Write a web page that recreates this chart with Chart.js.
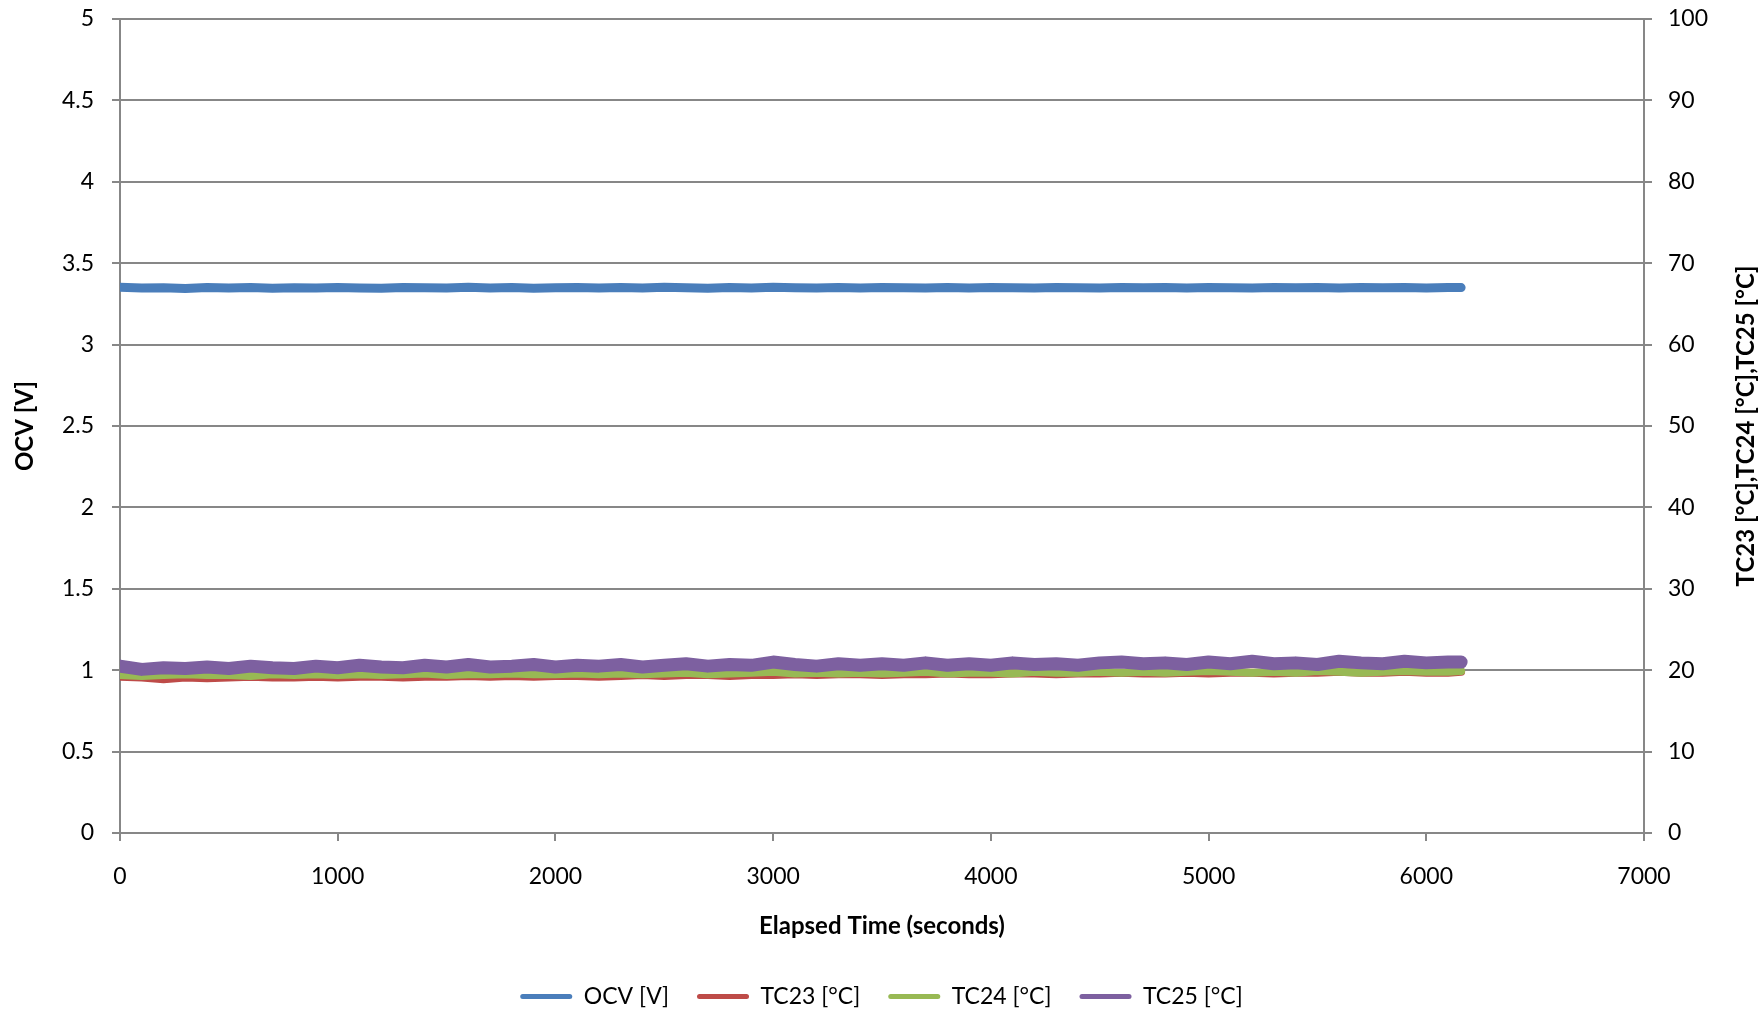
<!DOCTYPE html>
<html>
<head>
<meta charset="utf-8">
<script src="https://cdn.jsdelivr.net/npm/chart.js@4/dist/chart.umd.min.js"></script>
<style>
  html, body { margin: 0; padding: 0; background: #fff; }
  #wrap { width: 1763px; height: 1016px; position: relative; }
</style>
</head>
<body>
<div id="wrap"><canvas id="c"></canvas></div>
<script>
// Elapsed time (seconds)
const timeSec = [
  0,100,200,300,400,500,600,700,800,900,
  1000,1100,1200,1300,1400,1500,1600,1700,1800,1900,
  2000,2100,2200,2300,2400,2500,2600,2700,2800,2900,
  3000,3100,3200,3300,3400,3500,3600,3700,3800,3900,
  4000,4100,4200,4300,4400,4500,4600,4700,4800,4900,
  5000,5100,5200,5300,5400,5500,5600,5700,5800,5900,
  6000,6100,6160
];
// OCV [V]
const ocv = [
  3.352,3.347,3.349,3.345,3.350,3.348,3.351,3.346,3.349,3.347,
  3.350,3.348,3.346,3.351,3.349,3.347,3.352,3.348,3.350,3.346,
  3.349,3.351,3.347,3.350,3.348,3.352,3.349,3.346,3.350,3.348,
  3.353,3.349,3.347,3.351,3.348,3.350,3.349,3.347,3.351,3.348,
  3.350,3.349,3.348,3.351,3.349,3.347,3.350,3.349,3.351,3.348,
  3.350,3.349,3.347,3.350,3.349,3.351,3.348,3.350,3.349,3.350,
  3.348,3.350,3.350
];
// TC23 [°C]
const tc23 = [
  19.2,19.1,18.9,19.1,19.0,19.1,19.2,19.1,19.1,19.2,
  19.1,19.2,19.2,19.1,19.2,19.2,19.3,19.2,19.3,19.2,
  19.3,19.3,19.2,19.3,19.4,19.3,19.4,19.4,19.3,19.4,
  19.4,19.5,19.4,19.5,19.5,19.4,19.5,19.5,19.6,19.5,
  19.5,19.6,19.6,19.5,19.6,19.6,19.7,19.6,19.6,19.7,
  19.6,19.7,19.7,19.6,19.7,19.7,19.8,19.7,19.7,19.8,
  19.7,19.7,19.8
];
// TC24 [°C]
const tc24 = [
  19.4,19.3,19.4,19.5,19.4,19.4,19.3,19.5,19.4,19.5,
  19.4,19.5,19.4,19.5,19.6,19.4,19.5,19.5,19.6,19.5,
  19.5,19.6,19.5,19.6,19.5,19.6,19.7,19.5,19.6,19.7,
  19.8,19.6,19.7,19.6,19.7,19.6,19.7,19.8,19.6,19.7,
  19.7,19.6,19.8,19.7,19.7,19.8,19.7,19.8,19.7,19.8,
  19.9,19.8,19.7,19.8,19.7,19.9,19.8,19.7,19.8,19.9,
  19.8,19.8,19.9
];
// TC25 [°C]
const tc25 = [
  20.5,20.1,20.3,20.2,20.4,20.2,20.5,20.3,20.2,20.5,
  20.3,20.6,20.4,20.3,20.6,20.4,20.7,20.4,20.5,20.7,
  20.4,20.6,20.5,20.7,20.4,20.6,20.8,20.5,20.7,20.6,
  21.0,20.7,20.5,20.8,20.6,20.8,20.6,20.9,20.6,20.8,
  20.6,20.9,20.7,20.8,20.6,20.9,21.0,20.8,20.9,20.7,
  21.0,20.8,21.1,20.8,20.9,20.7,21.1,20.9,20.8,21.1,
  20.9,21.0,21.0
];
const seriesNames = ['OCV [V]', 'TC23 [°C]', 'TC24 [°C]', 'TC25 [°C]'];
const xTitle = 'Elapsed Time (seconds)';
const yTitle = 'OCV [V]';
const y1Title = 'TC23 [°C],TC24 [°C],TC25 [°C]';

const pts = arr => arr.map((v, i) => ({x: timeSec[i], y: v}));
const GRAY = '#878787';
const FONT = 'Lato';

const lineDs = (label, data, color, width, axis, order) => ({
  label, data: pts(data), borderColor: color, backgroundColor: color,
  borderWidth: width, pointRadius: 0, pointHoverRadius: 0, tension: 0,
  borderCapStyle: 'round', borderJoinStyle: 'round', yAxisID: axis, order
});

// Right axis title, reading bottom-to-top like the reference
const rightTitlePlugin = {
  id: 'rightTitle',
  afterDraw(chart) {
    const {ctx, chartArea} = chart;
    ctx.save();
    ctx.translate(chart.width - 17, (chartArea.top + chartArea.bottom) / 2);
    ctx.rotate(-Math.PI / 2);
    ctx.font = 'bold 24px ' + FONT;
    ctx.fillStyle = '#000';
    ctx.textAlign = 'center';
    ctx.textBaseline = 'middle';
    ctx.fillText(y1Title, 0, 0);
    ctx.restore();
  }
};

const noVertPad = (s, w) => { s.width = w; s.paddingTop = 0; s.paddingBottom = 0; };

new Chart(document.getElementById('c'), {
  type: 'line',
  data: {
    datasets: [
      lineDs(seriesNames[0], ocv, '#4A7EBB', 9, 'y', 4),
      lineDs(seriesNames[1], tc23, '#BE4B48', 8, 'y1', 3),
      lineDs(seriesNames[2], tc24, '#98B954', 8, 'y1', 2),
      lineDs(seriesNames[3], tc25, '#7D60A0', 13, 'y1', 1)
    ]
  },
  plugins: [rightTitlePlugin],
  options: {
    responsive: true,
    maintainAspectRatio: false,
    animation: false,
    layout: { padding: { left: 0, right: 0, top: 19, bottom: 0 } },
    plugins: {
      tooltip: { enabled: false },
      legend: {
        position: 'bottom',
        maxHeight: 59,
        labels: {
          font: { family: FONT, size: 23 },
          color: '#000',
          boxWidth: 52,
          boxHeight: 5,
          padding: 28,
          useBorderRadius: true,
          borderRadius: 2.5,
          sort: (a, b) => a.datasetIndex - b.datasetIndex,
          generateLabels: (chart) => {
            const items = Chart.defaults.plugins.legend.labels.generateLabels(chart);
            items.forEach(it => {
              const ds = chart.data.datasets[it.datasetIndex];
              it.fillStyle = ds.borderColor;
              it.strokeStyle = ds.borderColor;
              it.lineWidth = 0;
            });
            return items;
          }
        }
      }
    },
    scales: {
      x: {
        type: 'linear',
        min: 0, max: 7000,
        afterFit: (s) => { s.height = 124; },
        border: { color: GRAY, width: 2 },
        grid: { drawOnChartArea: false, drawTicks: true, tickLength: 8, color: GRAY, lineWidth: 2 },
        ticks: { stepSize: 1000, color: '#000', font: { family: FONT, size: 23 }, padding: 22,
                 callback: v => String(v) },
        title: { display: true, text: xTitle, color: '#000',
                 font: { family: FONT, size: 24, weight: 'bold' }, padding: { top: 0, bottom: 16 } }
      },
      y: {
        type: 'linear', position: 'left',
        min: 0, max: 5,
        afterFit: (s) => noVertPad(s, 120),
        border: { color: GRAY, width: 2 },
        grid: { color: GRAY, lineWidth: 2, tickLength: 8 },
        ticks: { stepSize: 0.5, color: '#000', font: { family: FONT, size: 23 }, padding: 18,
                 callback: v => String(Math.round(v * 10) / 10) },
        title: { display: true, text: yTitle, color: '#000',
                 font: { family: FONT, size: 24, weight: 'bold' }, padding: { top: 11, bottom: 0 } }
      },
      y1: {
        type: 'linear', position: 'right',
        min: 0, max: 100,
        afterFit: (s) => noVertPad(s, 119),
        border: { color: GRAY, width: 2 },
        grid: { drawOnChartArea: false, color: GRAY, lineWidth: 2, tickLength: 8 },
        ticks: { stepSize: 10, color: '#000', font: { family: FONT, size: 23 }, padding: 16 },
        title: { display: false }
      }
    }
  }
});
</script>
</body>
</html>
